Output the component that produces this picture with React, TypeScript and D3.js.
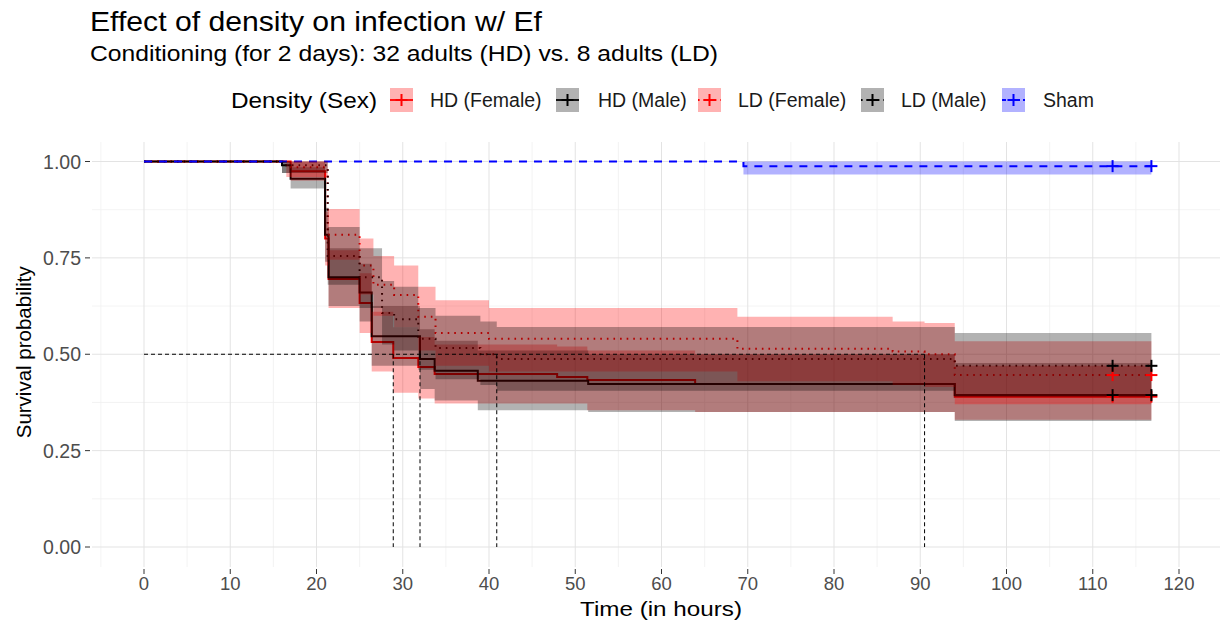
import React, { useEffect } from "react";
import * as d3 from "d3";

// Kaplan-Meier estimates (time in hours)
const hdFemaleTime = [0, 17, 21, 21.4, 25, 26.4, 28.9, 31.8, 33.7, 47.9, 51.4, 63.9, 94];
const hdFemaleSurv = [1, 0.975, 0.8, 0.695, 0.633, 0.532, 0.49, 0.467, 0.449, 0.441, 0.433, 0.423, 0.39];
const hdFemaleLower = [1, 0.95, 0.73, 0.62, 0.555, 0.455, 0.4, 0.385, 0.372, 0.372, 0.355, 0.35, 0.33];
const hdFemaleUpper = [1, 1, 0.87, 0.77, 0.71, 0.61, 0.57, 0.545, 0.525, 0.52, 0.51, 0.5, 0.47];

const hdMaleTime = [0, 16, 17, 21, 21.4, 25, 26.4, 32, 33.7, 38.7, 51.5, 94];
const hdMaleSurv = [1, 0.99, 0.955, 0.81, 0.7, 0.66, 0.547, 0.488, 0.457, 0.431, 0.423, 0.394];
const hdMaleLower = [1, 0.97, 0.93, 0.74, 0.625, 0.585, 0.47, 0.41, 0.38, 0.355, 0.35, 0.327];
const hdMaleUpper = [1, 1, 0.985, 0.88, 0.775, 0.735, 0.625, 0.565, 0.535, 0.51, 0.5, 0.477];

const ldFemaleTime = [0, 16.5, 21.3, 25, 26.6, 29, 31.8, 33.8, 40, 68.8, 86.8, 90.5, 94];
const ldFemaleSurv = [1, 0.985, 0.81, 0.73, 0.68, 0.654, 0.597, 0.555, 0.54, 0.514, 0.507, 0.5, 0.446];
const ldFemaleLower = [1, 0.96, 0.745, 0.655, 0.6, 0.57, 0.51, 0.47, 0.455, 0.43, 0.42, 0.415, 0.37];
const ldFemaleUpper = [1, 1, 0.877, 0.8, 0.755, 0.73, 0.675, 0.64, 0.62, 0.597, 0.585, 0.581, 0.534];

const ldMaleTime = [0, 16, 21.3, 25, 27.6, 29, 31.8, 33.8, 39, 40.9, 94];
const ldMaleSurv = [1, 0.99, 0.755, 0.7, 0.607, 0.591, 0.54, 0.516, 0.5, 0.488, 0.47];
const ldMaleLower = [1, 0.97, 0.68, 0.62, 0.525, 0.51, 0.46, 0.435, 0.42, 0.405, 0.39];
const ldMaleUpper = [1, 1, 0.83, 0.775, 0.69, 0.675, 0.62, 0.6, 0.585, 0.571, 0.555];

const shamTime = [0, 69.5];
const shamSurv = [1, 0.988];
const shamLower = [1, 0.966];
const shamUpper = [1, 1];

const endTime = 116.8;
const censorTimes = [112.3, 116.8];
const medianTimes = [28.9, 32.0, 40.9, 90.5];

const groupNames = ["HD (Female)", "HD (Male)", "LD (Female)", "LD (Male)", "Sham"];
const xTicks = [0, 10, 20, 30, 40, 50, 60, 70, 80, 90, 100, 110, 120];
const yTicks = [0, 0.25, 0.5, 0.75, 1];

const FONT = "'Liberation Sans', Arial, sans-serif";

type Stratum = {
  name: string;
  time: number[];
  surv: number[];
  lower: number[];
  upper: number[];
  color: string;
  dash: string | null;
  keyDash: string | null;
};

const strata: Stratum[] = [
  { name: groupNames[0], time: hdFemaleTime, surv: hdFemaleSurv, lower: hdFemaleLower, upper: hdFemaleUpper, color: "#FF0000", dash: null, keyDash: null },
  { name: groupNames[1], time: hdMaleTime, surv: hdMaleSurv, lower: hdMaleLower, upper: hdMaleUpper, color: "#000000", dash: null, keyDash: null },
  { name: groupNames[2], time: ldFemaleTime, surv: ldFemaleSurv, lower: ldFemaleLower, upper: ldFemaleUpper, color: "#FF0000", dash: "1.6,5", keyDash: "1.6,4" },
  { name: groupNames[3], time: ldMaleTime, surv: ldMaleSurv, lower: ldMaleLower, upper: ldMaleUpper, color: "#000000", dash: "1.6,5", keyDash: "1.6,4" },
  { name: groupNames[4], time: shamTime, surv: shamSurv, lower: shamLower, upper: shamUpper, color: "#0000FF", dash: "8,7", keyDash: "4,3" },
];

export default function App() {
  useEffect(() => {
    document.body.style.margin = "0";
  }, []);

  const width = 1220;
  const height = 621;
  const panel = { left: 92, right: 1220, top: 142, bottom: 567 };

  const x = d3.scaleLinear().domain([0, 120]).range([144, 1179]);
  const y = d3.scaleLinear().domain([0, 1]).range([547, 161.5]);

  const xMinor = d3.range(-5, 126, 10);
  const yMinor = [0.125, 0.375, 0.625, 0.875];

  const pts = (s: Stratum) => {
    const p = s.time.map((t, i) => ({ t, v: s.surv[i], lo: s.lower[i], hi: s.upper[i] }));
    const last = p[p.length - 1];
    p.push({ ...last, t: endTime });
    return p;
  };

  const line = d3
    .line<{ t: number; v: number }>()
    .x((d) => x(d.t))
    .y((d) => y(d.v))
    .curve(d3.curveStepAfter);

  const area = d3
    .area<{ t: number; lo: number; hi: number }>()
    .x((d) => x(d.t))
    .y0((d) => y(d.lo))
    .y1((d) => y(d.hi))
    .curve(d3.curveStepAfter);

  const cross = (cx: number, cy: number, color: string, key: string) => (
    <g key={key} stroke={color} strokeWidth={2}>
      <line x1={cx - 6} x2={cx + 6} y1={cy} y2={cy} />
      <line x1={cx} x2={cx} y1={cy - 6} y2={cy + 6} />
    </g>
  );

  // legend layout
  const legendY = 100;
  const legendKeys = [390, 556, 698, 861, 1002];
  const legendText = [430, 598, 738, 901, 1043];

  return (
    <svg width={width} height={height} style={{ display: "block", background: "#fff" }} fontFamily={FONT}>
      <text x={90} y={31} fontSize={28} textLength={452} lengthAdjust="spacingAndGlyphs" fill="#000">
        Effect of density on infection w/ Ef
      </text>
      <text x={90} y={61} fontSize={22.5} textLength={628} lengthAdjust="spacingAndGlyphs" fill="#000">
        Conditioning (for 2 days): 32 adults (HD) vs. 8 adults (LD)
      </text>

      {/* legend */}
      <text x={231} y={legendY + 8} fontSize={22.5} textLength={146} lengthAdjust="spacingAndGlyphs" fill="#000">
        Density (Sex)
      </text>
      {strata.map((s, i) => {
        const kx = legendKeys[i];
        return (
          <g key={s.name}>
            <rect x={kx} y={legendY - 12} width={23} height={24} fill={s.color} fillOpacity={0.3} />
            <line
              x1={kx}
              x2={kx + 23}
              y1={legendY}
              y2={legendY}
              stroke={s.color}
              strokeWidth={1.8}
              strokeDasharray={s.keyDash || undefined}
            />
            {cross(kx + 11.5, legendY, s.color, "c" + i)}
            <text x={legendText[i]} y={legendY + 7} fontSize={19.5} fill="#1a1a1a">
              {s.name}
            </text>
          </g>
        );
      })}

      {/* grid */}
      <g stroke="#F0F0F0" strokeWidth={0.8}>
        {xMinor.map((t) => (
          <line key={"xm" + t} x1={x(t)} x2={x(t)} y1={panel.top} y2={panel.bottom} />
        ))}
        {yMinor.map((v) => (
          <line key={"ym" + v} x1={panel.left} x2={panel.right} y1={y(v)} y2={y(v)} />
        ))}
      </g>
      <g stroke="#E3E3E3" strokeWidth={1}>
        {xTicks.map((t) => (
          <line key={"xg" + t} x1={x(t)} x2={x(t)} y1={panel.top} y2={panel.bottom} />
        ))}
        {yTicks.map((v) => (
          <line key={"yg" + v} x1={panel.left} x2={panel.right} y1={y(v)} y2={y(v)} />
        ))}
      </g>

      {/* curves underneath the ribbons */}
      {strata.map((s) => (
        <path
          key={"l" + s.name}
          d={line(pts(s)) || ""}
          fill="none"
          stroke={s.color}
          strokeWidth={2}
          strokeDasharray={s.dash || undefined}
        />
      ))}
      {strata.map((s) => (
        <path key={"a" + s.name} d={area(pts(s)) || ""} fill={s.color} fillOpacity={0.3} />
      ))}

      {/* censor marks */}
      {strata.map((s, i) =>
        censorTimes.map((t, j) => cross(x(t), y(s.surv[s.surv.length - 1]), s.color, `cm${i}-${j}`))
      )}

      {/* median survival */}
      <g stroke="#000" strokeWidth={1} strokeDasharray="4,3" fill="none">
        <line x1={x(0)} x2={x(d3.max(medianTimes) as number)} y1={y(0.5)} y2={y(0.5)} />
        {medianTimes.map((t) => (
          <line key={"md" + t} x1={x(t)} x2={x(t)} y1={y(0.5)} y2={y(0)} />
        ))}
      </g>

      {/* axes */}
      <g stroke="#333" strokeWidth={1}>
        {yTicks.map((v) => (
          <line key={"yt" + v} x1={85} x2={90} y1={y(v)} y2={y(v)} />
        ))}
        {xTicks.map((t) => (
          <line key={"xt" + t} x1={x(t)} x2={x(t)} y1={569} y2={574} />
        ))}
      </g>
      {yTicks.map((v) => (
        <text key={"yl" + v} x={81} y={y(v) + 7} fontSize={19.5} fill="#4D4D4D" textAnchor="end">
          {d3.format(".2f")(v)}
        </text>
      ))}
      {xTicks.map((t) => (
        <text key={"xl" + t} x={x(t)} y={590} fontSize={18.5} fill="#4D4D4D" textAnchor="middle">
          {t}
        </text>
      ))}
      <text x={580} y={616} fontSize={21} textLength={162} lengthAdjust="spacingAndGlyphs" fill="#000">
        Time (in hours)
      </text>
      <text transform={`translate(31,${y(0.5) - 2}) rotate(-90)`} fontSize={20.5} textAnchor="middle" fill="#000">
        Survival probability
      </text>
    </svg>
  );
}
